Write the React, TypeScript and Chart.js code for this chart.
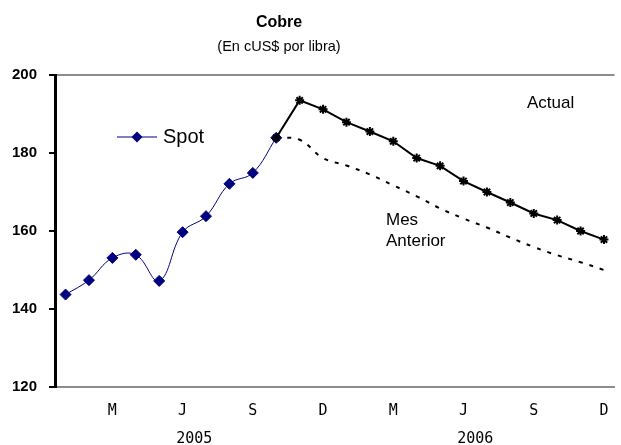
import React, { useEffect, useRef } from 'react';
import { Chart, registerables } from 'chart.js';

Chart.register(...registerables);

// ---- data ----
const monthLabels = ['E', 'F', 'M', 'A', 'M', 'J', 'J', 'A', 'S', 'O', 'N', 'D', 'E', 'F', 'M', 'A', 'M', 'J', 'J', 'A', 'S', 'O', 'N', 'D'];
const shownTicks = [2, 5, 8, 11, 14, 17, 20, 23];
const years = ['2005', '2006'];
const yearCenters = [5.5, 17.5];
const spotValues = [143.7, 147.4, 153.1, 153.9, 147.2, 159.7, 163.8, 172.1, 174.9, 183.9];
const forecastStart = 9;
const actualValues = [183.9, 193.5, 191.2, 187.9, 185.5, 183.0, 178.7, 176.7, 172.8, 170.0, 167.3, 164.5, 162.8, 160.0, 157.8];
const previousValues = [183.9, 183.4, 178.7, 176.8, 174.5, 171.7, 168.9, 165.8, 163.2, 160.9, 158.3, 155.9, 153.8, 152.0, 150.0];
const yMin = 120;
const yMax = 200;
const yStep = 20;

const title = 'Cobre';
const subtitle = '(En cUS$ por libra)';
const legendLabel = 'Spot';
const actualLabel = 'Actual';
const previousLabel = ['Mes', 'Anterior'];

const SANS = '"Liberation Sans", Arial, sans-serif';
const MONO = '"DejaVu Sans Mono", monospace';

const decorPlugin = {
  id: 'decor',
  afterDraw(chart: any) {
    const ctx = chart.ctx as CanvasRenderingContext2D;
    const xs = chart.scales.x;
    ctx.save();
    ctx.fillStyle = '#000';
    ctx.textAlign = 'center';
    ctx.textBaseline = 'middle';
    ctx.font = `bold 16px ${SANS}`;
    ctx.fillText(title, 279, 23);
    ctx.font = `14.5px ${SANS}`;
    ctx.fillText(subtitle, 279, 47);

    // years
    ctx.font = `15px ${MONO}`;
    years.forEach((y, i) => {
      ctx.fillText(y, xs.getPixelForValue(yearCenters[i]), 439);
    });

    // legend
    ctx.strokeStyle = '#000080';
    ctx.lineWidth = 1;
    ctx.beginPath();
    ctx.moveTo(117, 137);
    ctx.lineTo(157, 137);
    ctx.stroke();
    ctx.fillStyle = '#000080';
    ctx.beginPath();
    ctx.moveTo(137 - 5.5, 137);
    ctx.lineTo(137, 137 - 5.5);
    ctx.lineTo(137 + 5.5, 137);
    ctx.lineTo(137, 137 + 5.5);
    ctx.closePath();
    ctx.fill();
    ctx.fillStyle = '#000';
    ctx.textAlign = 'left';
    ctx.font = `20px ${SANS}`;
    ctx.fillText(legendLabel, 163, 137);

    // annotations
    ctx.font = `17px ${SANS}`;
    ctx.fillText(actualLabel, 527, 103);
    ctx.fillText(previousLabel[0], 386, 220);
    ctx.fillText(previousLabel[1], 386, 241.5);
    ctx.restore();
  },
};

export default function App() {
  const ref = useRef<HTMLCanvasElement | null>(null);
  useEffect(() => {
    if (!ref.current) return;
    const chart = new Chart(ref.current, {
      type: 'line',
      data: {
        datasets: [
          {
            label: 'Actual',
            data: actualValues.map((v, i) => ({ x: forecastStart + i, y: v })),
            borderColor: '#000',
            borderWidth: 2,
            tension: 0,
            pointStyle: 'star',
            pointRadius: 4.5,
            pointBorderWidth: 2,
            pointBorderColor: '#000',
            pointBackgroundColor: '#000',
            fill: false,
          },
          {
            label: 'Mes Anterior',
            data: previousValues.map((v, i) => ({ x: forecastStart + i, y: v })),
            borderColor: '#000',
            borderWidth: 2,
            borderDash: [4, 7],
            tension: 0.4,
            pointRadius: 0,
            fill: false,
          },
          {
            label: legendLabel,
            data: spotValues.map((v, i) => ({ x: i, y: v })),
            borderColor: '#000080',
            borderWidth: 1,
            tension: 0.4,
            pointStyle: 'rectRot',
            pointRadius: 5.5,
            pointBorderWidth: 1,
            pointBorderColor: '#000080',
            pointBackgroundColor: '#000080',
            fill: false,
          },
        ],
      },
      options: {
        responsive: false,
        animation: false,
        events: [],
        layout: { padding: { top: 75, left: 0, right: 0, bottom: 25 } },
        plugins: {
          legend: { display: false },
          title: { display: false },
          tooltip: { enabled: false },
        },
        scales: {
          x: {
            type: 'linear',
            min: -0.45,
            max: 23.45,
            afterBuildTicks: (axis: any) => {
              axis.ticks = shownTicks.map((v) => ({ value: v }));
            },
            ticks: {
              autoSkip: false,
              maxRotation: 0,
              padding: 0,
              color: '#000',
              font: { family: MONO, size: 15 },
              callback: (v: any) => monthLabels[Number(v)] ?? '',
            },
            grid: {
              display: true,
              drawOnChartArea: false,
              drawTicks: true,
              tickLength: 15,
              color: 'transparent',
              tickColor: 'transparent',
            },
            border: { display: true, color: '#8c8c8c', width: 2 },
          },
          y: {
            min: yMin,
            max: yMax,
            ticks: {
              stepSize: yStep,
              padding: 12,
              color: '#000',
              font: { family: SANS, size: 15, weight: 'bold' },
            },
            grid: {
              display: true,
              drawOnChartArea: true,
              drawTicks: true,
              tickLength: 6,
              lineWidth: 2,
              tickWidth: 2,
              color: (c: any) => (c.tick && c.tick.value === yMax ? '#8c8c8c' : 'transparent'),
              tickColor: '#000',
            },
            border: { display: true, color: '#000', width: 3 },
          },
        },
      },
      plugins: [decorPlugin],
    } as any);
    return () => chart.destroy();
  }, []);
  return (
    <div style={{ position: 'absolute', left: 0, top: 0, width: 621, height: 445, background: '#fff' }}>
      <canvas ref={ref} width={621} height={445} style={{ display: 'block', width: 621, height: 445 }} />
    </div>
  );
}
